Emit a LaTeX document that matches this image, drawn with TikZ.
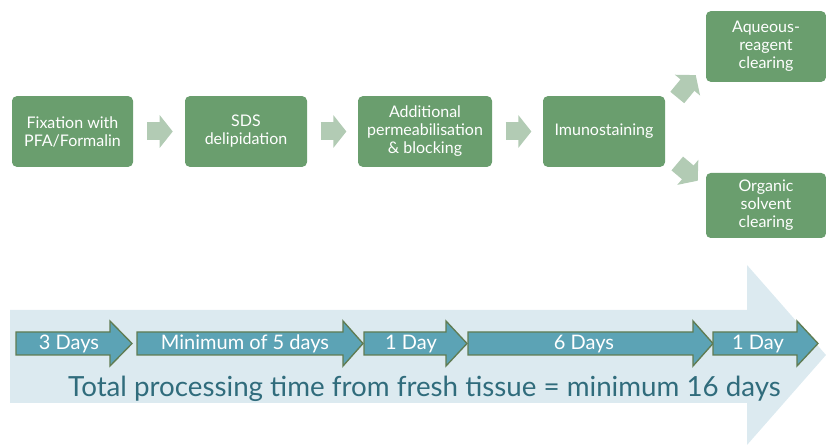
\documentclass[tikz,border=0pt]{standalone}
\usepackage{fontspec}
\setmainfont{Lato}
\usetikzlibrary{arrows.meta,calc}

\definecolor{boxgreen}{RGB}{106,158,110}
\definecolor{arrowgreen}{RGB}{178,203,180}
\definecolor{bandblue}{RGB}{220,234,240}
\definecolor{dayteal}{RGB}{92,163,181}
\definecolor{dayedge}{RGB}{96,124,82}
\definecolor{totalteal}{RGB}{48,108,124}

\tikzset{
  stepbox/.style={fill=boxgreen, rounded corners=3.5pt, text=white, align=center,
    font=\fontsize{12}{13.5}\selectfont, inner sep=0pt, minimum height=53pt},
  blockarrow/.style={draw=arrowgreen, line width=13.5pt,
    -{Triangle[length=9.75pt,width=24pt,fill=arrowgreen]}},
  dayarrow/.style={fill=dayteal, draw=dayedge, line width=1pt},
  daylabel/.style={text=white, font=\fontsize{15}{17}\selectfont, inner sep=0.75pt},
  totallabel/.style={text=totalteal, font=\fontsize{20.8}{24}\selectfont, inner sep=0.75pt}
}

\begin{document}
\begin{tikzpicture}[x=0.75pt,y=0.75pt,yscale=-1,xscale=1]
    \useasboundingbox (0,0) rectangle (826,445);

    % Step boxes
    \node[stepbox, minimum width=90.75pt] (fix) at (72.5,131.5) {Fixation with\\PFA/Formalin};
    \node[stepbox, minimum width=91.5pt] (sds) at (246,131.5) {SDS\\delipidation};
    \node[stepbox, minimum width=100.5pt] (perm) at (425,131.5) {Additional\\permeabilisation\\\& blocking};
    \node[stepbox, minimum width=91.5pt] (imm) at (604,131.5) {Imunostaining};
    \node[stepbox, minimum width=90pt] (aq) at (766,46.5) {Aqueous-\\reagent\\clearing};
    \node[stepbox, minimum width=90pt, minimum height=48.75pt] (org) at (766,205.5) {Organic\\solvent\\clearing};

    % Block arrows between the steps
    \draw[blockarrow, shorten <=10.5pt, shorten >=9pt] (fix) -- (sds);
    \draw[blockarrow, shorten <=10pt, shorten >=8.5pt] (sds) -- (perm);
    \draw[blockarrow, shorten <=10pt, shorten >=8.5pt] (perm) -- (imm);
    \draw[blockarrow] ($(imm.east)+(12,-34)$) -- ($(aq.south west)+(-10,-7)$);
    \draw[blockarrow] ($(imm.east)+(12,32)$) -- ($(org.north west)+(-8,8)$);

    %Shape: Right Arrow [band]
    \fill[bandblue] (10,310) -- (747,310) -- (747,265) -- (826,355) -- (747,445) -- (747,403) -- (10,403) -- cycle;

    %Shape: Right Arrow [3 days]
    \draw[dayarrow] (16,332) -- (110,332) -- (110,321) -- (132,343.5) -- (110,366) -- (110,355) -- (16,355) -- cycle;
    %Shape: Right Arrow [5 days]
    \draw[dayarrow] (137,332) -- (343,332) -- (343,321) -- (363,343.5) -- (343,366) -- (343,355) -- (137,355) -- cycle;
    %Shape: Right Arrow [1 day]
    \draw[dayarrow] (364,332) -- (446,332) -- (446,321) -- (467,343.5) -- (446,366) -- (446,355) -- (364,355) -- cycle;
    %Shape: Right Arrow [6 days]
    \draw[dayarrow] (468,332) -- (693,332) -- (693,321) -- (713,343.5) -- (693,366) -- (693,355) -- (468,355) -- cycle;
    %Shape: Right Arrow [1 day]
    \draw[dayarrow] (713,332) -- (797,332) -- (797,321) -- (818,343.5) -- (797,366) -- (797,355) -- (713,355) -- cycle;

    % Text Node
    \node[daylabel] (d3) at (69,344) {3 Days};
    % Text Node
    \node[daylabel] (d5) at (245,344) {Minimum of 5 days};
    % Text Node
    \node[daylabel] (d1a) at (411,344) {1 Day};
    % Text Node
    \node[daylabel] (d6) at (584,344) {6 Days};
    % Text Node
    \node[daylabel] (d1b) at (758,344) {1 Day};
    % Text Node
    \node[totallabel] (total) at (424.5,389) {Total processing time from fresh tissue = minimum 16 days};
\end{tikzpicture}
\end{document}
